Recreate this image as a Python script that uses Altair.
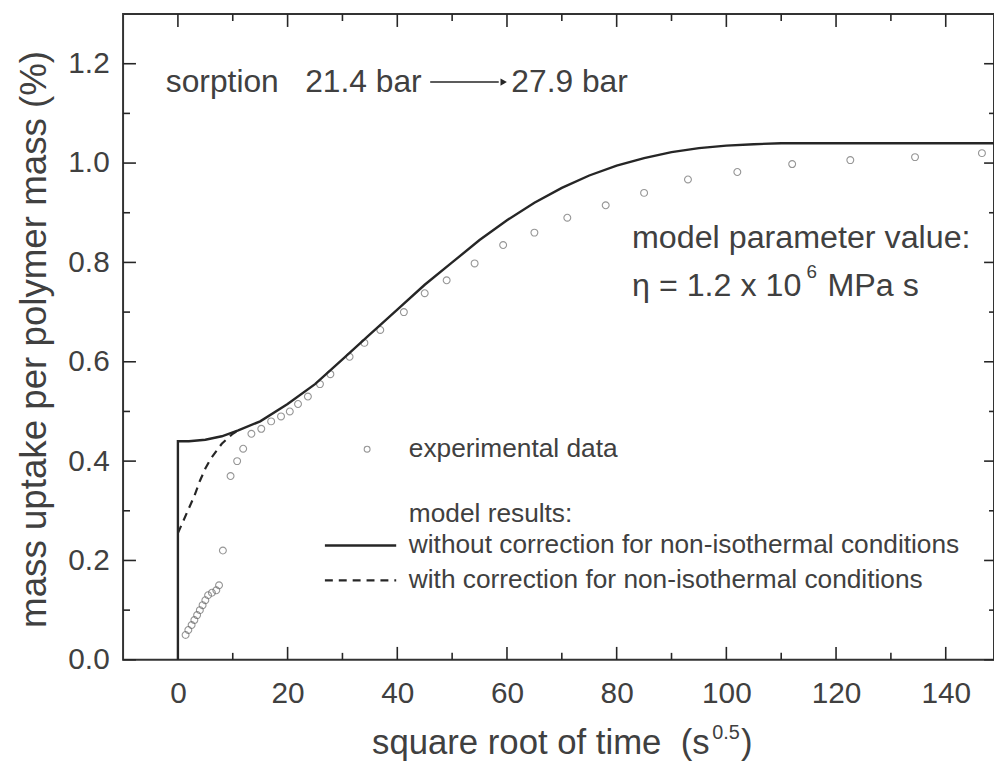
import altair as alt
import pandas as pd

# ---------------- data ----------------
exp_x = [1.4, 1.9, 2.5, 3.0, 3.5, 4.0, 4.5, 5.0, 5.5, 6.2, 7.0, 7.5, 8.2, 9.6, 10.8, 11.9,
         13.4, 15.2, 17.0, 18.8, 20.4, 21.9, 23.7, 25.9, 27.8, 31.3, 34.0, 36.9, 41.2, 45.0,
         49.0, 54.1, 59.3, 65.0, 71.0, 78.0, 85.0, 93.0, 102.0, 112.0, 122.6, 134.4, 146.6]
exp_y = [0.05, 0.06, 0.07, 0.08, 0.09, 0.10, 0.11, 0.12, 0.13, 0.135, 0.14, 0.15, 0.22, 0.37,
         0.40, 0.425, 0.455, 0.465, 0.48, 0.49, 0.50, 0.515, 0.53, 0.555, 0.575, 0.61, 0.638,
         0.664, 0.70, 0.738, 0.764, 0.798, 0.835, 0.86, 0.89, 0.915, 0.94, 0.967, 0.982, 0.998,
         1.006, 1.012, 1.02]

solid_x = [0, 0, 2, 5, 8, 11, 15, 20, 25, 30, 35, 40, 45, 50, 55, 60, 65, 70, 75, 80, 85, 90,
           95, 100, 105, 110, 115, 120, 130, 140, 148.8]
solid_y = [0, 0.44, 0.44, 0.443, 0.45, 0.462, 0.48, 0.515, 0.555, 0.605, 0.655, 0.705, 0.755,
           0.80, 0.845, 0.885, 0.92, 0.95, 0.975, 0.995, 1.01, 1.022, 1.03, 1.035, 1.038, 1.04,
           1.04, 1.04, 1.04, 1.04, 1.04]

dash_x = [0, 1, 2, 3, 4, 5, 6, 7, 8, 9, 10, 11]
dash_y = [0.255, 0.28, 0.305, 0.33, 0.36, 0.385, 0.405, 0.42, 0.435, 0.445, 0.455, 0.462]

x_major = [0, 20, 40, 60, 80, 100, 120, 140]
x_minor = [10, 30, 50, 70, 90, 110, 130]
y_major = [0.0, 0.2, 0.4, 0.6, 0.8, 1.0, 1.2]
y_minor = [0.1, 0.3, 0.5, 0.7, 0.9, 1.1]

x_title = "square root of time\u00a0\u00a0(s"
y_title = "mass uptake per polymer mass (%)"
legend_labels = ["experimental data", "model results:",
                 "without correction for non-isothermal conditions",
                 "with correction for non-isothermal conditions"]

# ---------------- layout ----------------
W, H = 878, 651
X0, X1, Y0, Y1 = -10, 148.8, 0, 1.3
TXT = "#404040"
LINE = "#262626"
FONT = "Liberation Sans"
PX = (X1 - X0) / W      # data units per pixel (x)
PY = (Y1 - Y0) / H      # data units per pixel (y)

xs = alt.Scale(domain=[X0, X1], nice=False, zero=False)
ys = alt.Scale(domain=[Y0, Y1], nice=False, zero=True)
xaxis = alt.Axis(values=x_major, format="d", title=None, ticks=False, tickSize=0, domain=False,
                 grid=False, labelFontSize=30, labelPadding=19, labelColor=TXT, labelFont=FONT)
yaxis = alt.Axis(values=y_major, format=".1f", title=y_title, ticks=False, tickSize=0,
                 domain=False, grid=False, labelFontSize=30, labelPadding=14, labelColor=TXT,
                 labelFont=FONT, titleFontSize=37, titleFontWeight="normal", titleColor=TXT,
                 titleFont=FONT, titleX=-89, titleY=H / 2 + 2, titleAngle=270,
                 titleAlign="center", titleBaseline="middle")


def X(f):
    return alt.X(f, type="quantitative", scale=xs, axis=xaxis)


def Y(f):
    return alt.Y(f, type="quantitative", scale=ys, axis=yaxis)


exp_df = pd.DataFrame({"x": exp_x, "y": exp_y})
solid_df = pd.DataFrame({"x": solid_x, "y": solid_y, "i": range(len(solid_x))})
dash_df = pd.DataFrame({"x": dash_x, "y": dash_y, "i": range(len(dash_x))})

points = alt.Chart(exp_df).mark_point(shape="circle", filled=False, size=48, strokeWidth=1.1,
                                      color="#6a6a6a").encode(x=X("x"), y=Y("y"))
solid = alt.Chart(solid_df).mark_line(color=LINE, strokeWidth=2.4).encode(
    x=X("x"), y=Y("y"), order="i:Q")
dashed = alt.Chart(dash_df).mark_line(color=LINE, strokeWidth=2.2, strokeDash=[8, 6]).encode(
    x=X("x"), y=Y("y"), order="i:Q")


# inward ticks on all four sides (positions through the scales)
def xticks(vals, ln, top):
    y_start = Y1 if top else Y0
    y_end = Y1 - ln * PY if top else Y0 + ln * PY
    d = pd.DataFrame({"v": vals, "a": [y_start] * len(vals), "b": [y_end] * len(vals)})
    return alt.Chart(d).mark_rule(color=LINE, strokeWidth=1.6).encode(
        x=X("v"), y=Y("a"), y2="b")


def yticks(vals, ln, right):
    x_start = X1 if right else X0
    x_end = X1 - ln * PX if right else X0 + ln * PX
    d = pd.DataFrame({"v": vals, "a": [x_start] * len(vals), "b": [x_end] * len(vals)})
    return alt.Chart(d).mark_rule(color=LINE, strokeWidth=1.6).encode(
        y=Y("v"), x=X("a"), x2="b")


ticks = [xticks(x_major, 13, False), xticks(x_minor, 7, False),
         xticks(x_major, 13, True), xticks(x_minor, 7, True),
         yticks(y_major, 13, False), yticks(y_minor, 7, False),
         yticks(y_major, 10, True), yticks(y_minor, 5, True)]


def text(tx, x, y, size, dx=0, dy=0, baseline="middle"):
    d = pd.DataFrame({"x": [x], "y": [y], "t": [tx]})
    return alt.Chart(d).mark_text(align="left", baseline=baseline, fontSize=size, font=FONT,
                                  color=TXT, dx=dx, dy=dy).encode(x=X("x"), y=Y("y"), text="t:N")


def ptext(tx, px, py, size):
    d = pd.DataFrame({"t": [tx]})
    return alt.Chart(d).mark_text(align="left", baseline="alphabetic", fontSize=size, font=FONT,
                                  color=TXT).encode(x=alt.value(px), y=alt.value(py), text="t:N")


# annotations
SY = 1.163
ann = [
    text("sorption\u00a0\u00a0\u00a021.4 bar", -2.2, SY, 32),
    text("27.9 bar", 60.8, SY, 32),
    text("model parameter value:", 82.8, 0.85, 32.5),
    text("\u03b7 = 1.2 x 10", 82.8, 0.752, 32.5),
    text("6", 82.8, 0.752, 19, dx=176, dy=-14),
    text("MPa s", 82.8, 0.752, 32.5, dx=197),
]
arrow_df = pd.DataFrame({"x": [46.0], "x2": [58.5], "y": [SY]})
arrow_line = alt.Chart(arrow_df).mark_rule(color=LINE, strokeWidth=1.5).encode(
    x=X("x"), x2="x2", y=Y("y"))
arrow_head = alt.Chart(pd.DataFrame({"x": [59.4], "y": [SY]})).mark_point(
    shape="triangle-right", filled=True, size=55, color=LINE, opacity=1).encode(x=X("x"), y=Y("y"))

# x-axis title with superscript
xt = [ptext(x_title, 251, 746, 35), ptext("0.5", 594, 731, 20), ptext(")", 623, 746, 35)]

# legend
leg_x = 42.1
LS = 26.5
leg = [
    text(legend_labels[0], leg_x, 0.424, LS),
    text(legend_labels[1], leg_x, 0.294, LS),
    text(legend_labels[2], leg_x, 0.23, LS),
    text(legend_labels[3], leg_x, 0.16, LS),
]
leg_pt = alt.Chart(pd.DataFrame({"x": [34.5], "y": [0.424]})).mark_point(
    shape="circle", filled=False, size=35, strokeWidth=1.1, color="#6a6a6a").encode(
    x=X("x"), y=Y("y"))
leg_lines = pd.DataFrame({"x": [26.8, 26.8], "x2": [39.8, 39.8], "y": [0.23, 0.16]})
leg_solid = alt.Chart(leg_lines.iloc[[0]]).mark_rule(color=LINE, strokeWidth=2.4).encode(
    x=X("x"), x2="x2", y=Y("y"))
leg_dash = alt.Chart(leg_lines.iloc[[1]]).mark_rule(color=LINE, strokeWidth=2.2,
                                                    strokeDash=[8, 6]).encode(
    x=X("x"), x2="x2", y=Y("y"))

chart = alt.layer(points, solid, dashed, *ticks, *ann, arrow_line, arrow_head, *xt, *leg,
                  leg_pt, leg_solid, leg_dash).properties(
    width=W, height=H,
    autosize=alt.AutoSizeParams(type="none"),
    padding={"left": 116, "top": 3, "right": 0, "bottom": 110},
    background="white",
).configure_view(stroke="#333333", strokeWidth=2)

chart.save("out.html", embed_options={"renderer": "svg", "actions": False})
